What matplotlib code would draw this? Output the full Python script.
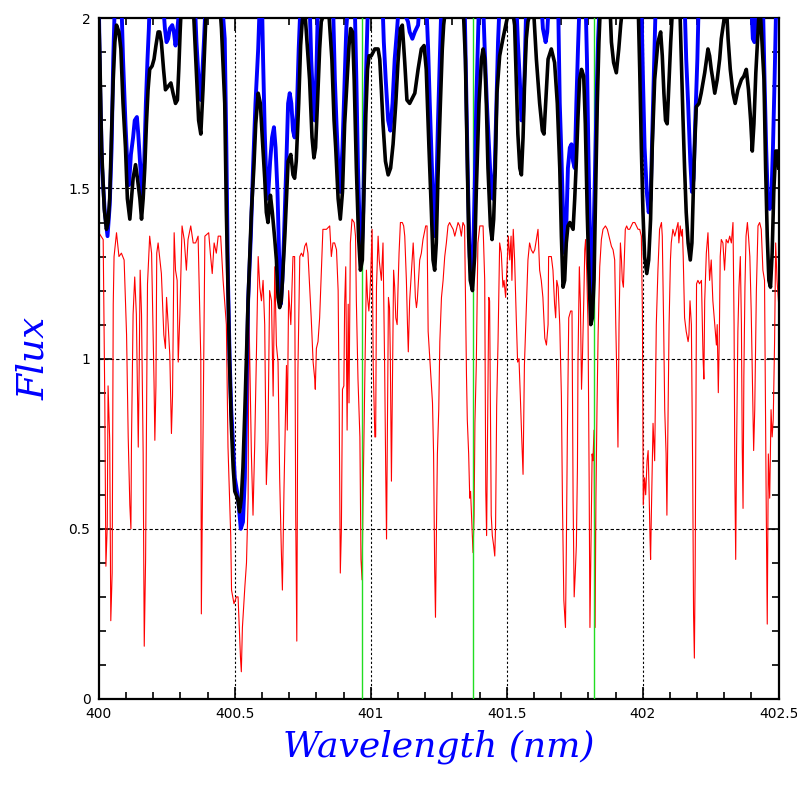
import matplotlib
matplotlib.use("Agg")
import matplotlib.pyplot as plt
from matplotlib.ticker import MultipleLocator, FuncFormatter

# red: synthetic line spectrum (thin)
red_wl = [400.000, 400.016, 400.022, 400.026, 400.031, 400.034, 400.040, 400.044, 400.049, 400.053,
          400.056, 400.065, 400.074, 400.083, 400.093, 400.102, 400.108, 400.114, 400.118, 400.120,
          400.126, 400.132, 400.138, 400.145, 400.148, 400.152, 400.157, 400.163, 400.167, 400.172,
          400.175, 400.179, 400.187, 400.194, 400.203, 400.206, 400.210, 400.213, 400.218, 400.230,
          400.239, 400.245, 400.249, 400.255, 400.261, 400.267, 400.271, 400.277, 400.282, 400.288,
          400.292, 400.298, 400.306, 400.314, 400.322, 400.328, 400.338, 400.347, 400.356, 400.365,
          400.375, 400.377, 400.383, 400.390, 400.404, 400.410, 400.417, 400.424, 400.432, 400.439,
          400.448, 400.457, 400.469, 400.475, 400.485, 400.488, 400.497, 400.506, 400.512, 400.521,
          400.524, 400.528, 400.537, 400.543, 400.549, 400.552, 400.561, 400.567, 400.573, 400.579,
          400.586, 400.592, 400.598, 400.604, 400.610, 400.616, 400.622, 400.628, 400.635, 400.641,
          400.647, 400.653, 400.659, 400.665, 400.671, 400.675, 400.681, 400.690, 400.693, 400.698,
          400.706, 400.714, 400.720, 400.724, 400.728, 400.732, 400.739, 400.745, 400.751, 400.757,
          400.763, 400.769, 400.781, 400.788, 400.794, 400.796, 400.800, 400.806, 400.812, 400.818,
          400.824, 400.837, 400.849, 400.855, 400.861, 400.867,
          400.874, 400.880, 400.884, 400.888, 400.892, 400.896, 400.901, 400.904, 400.908, 400.913,
          400.917, 400.920, 400.925, 400.931, 400.939, 400.944, 400.947, 400.953, 400.960, 400.964,
          400.968, 400.972, 400.975, 400.979, 400.984, 400.988, 400.993, 400.996, 401.000, 401.005,
          401.009, 401.015, 401.018, 401.021, 401.027, 401.031, 401.035, 401.039, 401.045, 401.051,
          401.055, 401.058, 401.061, 401.065, 401.069, 401.072, 401.076, 401.080, 401.084, 401.088,
          401.092, 401.097, 401.100, 401.104, 401.109, 401.116, 401.121, 401.125, 401.131, 401.135,
          401.138, 401.143, 401.149, 401.156, 401.159, 401.164, 401.168, 401.171, 401.180, 401.186,
          401.192, 401.202, 401.207, 401.211, 401.217, 401.227, 401.231, 401.235, 401.238, 401.241,
          401.245, 401.250, 401.254, 401.260, 401.266, 401.272, 401.278, 401.284, 401.290, 401.296,
          401.303, 401.309, 401.315, 401.321, 401.327, 401.333, 401.339, 401.345, 401.352, 401.355,
          401.360, 401.364, 401.367, 401.372, 401.376, 401.380, 401.383, 401.388, 401.394, 401.401,
          401.407, 401.413, 401.419, 401.423, 401.426, 401.430, 401.434, 401.437, 401.443, 401.447,
          401.452, 401.456, 401.459, 401.463, 401.468, 401.474, 401.480, 401.486, 401.490, 401.496,
          401.501, 401.506, 401.511, 401.516, 401.519, 401.524, 401.529, 401.535, 401.540, 401.545,
          401.550, 401.555, 401.560, 401.565, 401.570, 401.578, 401.584, 401.590, 401.597, 401.603,
          401.609, 401.615, 401.621, 401.627, 401.633,
          401.640, 401.646, 401.652, 401.654, 401.664, 401.670, 401.676, 401.680, 401.684, 401.689,
          401.695, 401.701, 401.705, 401.710, 401.716, 401.719, 401.723, 401.728, 401.735, 401.740,
          401.744, 401.748, 401.752, 401.756, 401.760, 401.762, 401.767, 401.771, 401.775, 401.778,
          401.783, 401.787, 401.790, 401.794, 401.799, 401.803, 401.806, 401.810, 401.814, 401.817,
          401.821, 401.825, 401.828, 401.832, 401.836, 401.842, 401.848, 401.854, 401.863, 401.870,
          401.879, 401.885, 401.891, 401.897, 401.901, 401.906, 401.909, 401.913, 401.918, 401.922,
          401.925, 401.929, 401.931, 401.936, 401.941, 401.946, 401.952, 401.958, 401.964, 401.971,
          401.977, 401.983, 401.989, 401.995, 401.999, 402.002, 402.007, 402.011, 402.016, 402.020,
          402.023, 402.027, 402.029, 402.032, 402.038, 402.044, 402.050, 402.056, 402.062, 402.069,
          402.072, 402.077, 402.081, 402.086, 402.089, 402.093, 402.097, 402.102, 402.105, 402.111,
          402.118, 402.124, 402.130, 402.133, 402.138, 402.142, 402.146, 402.149, 402.154, 402.160,
          402.167, 402.170, 402.174, 402.179, 402.184, 402.187, 402.190, 402.193, 402.198, 402.203,
          402.209, 402.216, 402.222, 402.225, 402.228, 402.234, 402.240, 402.246, 402.252, 402.258,
          402.265, 402.271, 402.274, 402.278, 402.282, 402.285, 402.289, 402.295, 402.301, 402.307,
          402.314, 402.320, 402.326, 402.332, 402.336, 402.339, 402.342, 402.345, 402.350, 402.354,
          402.359, 402.363, 402.366, 402.369, 402.372, 402.376, 402.380, 402.385, 402.389, 402.394,
          402.399, 402.404, 402.408, 402.412, 402.418, 402.424, 402.430, 402.436, 402.442, 402.448,
          402.454, 402.458, 402.462, 402.467, 402.472, 402.476, 402.480, 402.485, 402.489, 402.494,
          402.500]
red_flux = [1.37, 1.35, 0.87, 0.39, 0.51, 0.92, 0.76, 0.23, 0.37, 1.16,
            1.30, 1.37, 1.30, 1.31, 1.29, 1.07, 0.77, 0.57, 0.50, 0.75,
            1.13, 1.24, 1.13, 0.74, 0.94, 1.26, 1.13, 0.72, 0.155, 0.41,
            0.78, 1.22, 1.36, 1.31, 0.93, 0.76, 0.92, 1.31, 1.34, 1.25,
            1.07, 1.03, 1.18, 1.10, 1.01, 0.78, 0.89, 1.37, 1.26, 1.23,
            0.99, 1.13, 1.39, 1.35, 1.26, 1.35, 1.39, 1.34, 1.34, 1.36,
            1.00, 0.25, 0.77, 1.36, 1.37, 1.31, 1.25, 1.34, 1.31, 1.36,
            1.36, 1.23, 1.10, 0.74, 0.48, 0.32, 0.28, 0.30, 0.30, 0.12,
            0.08, 0.21, 0.33, 0.40, 0.59, 1.14, 0.72, 0.54, 0.74, 0.99,
            1.30, 1.21, 1.17, 1.23, 1.10, 0.63, 0.76, 1.20, 1.17, 0.89,
            1.27, 1.04, 0.99, 0.65, 0.44, 0.32, 0.62, 0.98, 0.79, 1.20,
            1.10, 1.30, 1.30, 0.54, 0.17, 0.96, 1.30, 1.31, 1.30, 1.33,
            1.34, 1.31, 1.12, 0.99, 0.94, 0.91, 1.03, 1.05, 1.12, 1.25,
            1.38, 1.38, 1.39, 1.30, 1.34, 1.34,
            1.32, 1.20, 0.85, 0.37, 0.50, 0.91, 0.92, 1.16, 1.27, 0.79,
            1.16, 0.87, 1.34, 1.41, 1.40, 1.36, 1.17, 0.94, 0.77, 0.41,
            0.35, 0.61, 0.77, 1.00, 1.26, 1.18, 1.14, 1.18, 1.25, 1.38,
            0.98, 0.77, 0.77, 1.21, 1.36, 1.29, 1.26, 1.23, 1.34, 0.98,
            0.67, 0.47, 0.78, 1.18, 1.15, 1.00, 0.64, 0.94, 1.26, 1.21,
            1.12, 1.10, 1.20, 1.31, 1.40, 1.40, 1.39, 1.36, 1.23, 1.10,
            1.02, 1.17, 1.25, 1.34, 1.29, 1.18, 1.15, 1.17, 1.29, 1.31,
            1.35, 1.39, 1.39, 1.08, 1.00, 0.87, 0.72, 0.38, 0.24, 0.46,
            0.72, 0.85, 1.05, 1.18, 1.23, 1.30, 1.34, 1.39, 1.40, 1.39,
            1.38, 1.36, 1.38, 1.40, 1.39, 1.36, 1.40, 1.39, 0.95, 0.82,
            0.72, 0.59, 0.61, 0.51, 0.43, 0.54, 0.81, 0.98, 1.34, 1.39,
            1.39, 1.39, 1.23, 0.61, 0.48, 0.82, 1.18, 1.17, 0.54, 0.48,
            0.45, 0.42, 0.51, 0.86, 1.05, 1.34, 1.31, 1.21, 1.23, 1.18,
            1.27, 1.36, 1.29, 1.36, 1.23, 1.38, 1.29, 1.12, 0.99, 1.00,
            0.89, 0.77, 0.66, 0.98, 1.10, 1.29, 1.34, 1.32, 1.31, 1.32,
            1.35, 1.38, 1.26, 1.23, 1.18,
            1.06, 1.04, 1.10, 1.30, 1.30, 1.26, 1.16, 1.12, 1.23, 1.21,
            1.10, 0.89, 0.57, 0.29, 0.21, 0.43, 0.78, 1.12, 1.14, 1.14,
            0.59, 0.30, 0.37, 0.45, 0.68, 0.99, 1.27, 1.16, 0.91, 0.99,
            1.16, 1.32, 1.35, 1.26, 1.10, 0.65, 0.21, 0.46, 0.72, 0.70,
            0.79, 0.21, 0.59, 0.86, 1.07, 1.27, 1.35, 1.38, 1.39, 1.38,
            1.35, 1.33, 1.32, 1.29, 1.10, 0.90, 0.74, 1.10, 1.34, 1.29,
            1.23, 1.21, 1.26, 1.38, 1.39, 1.38, 1.38, 1.39, 1.40, 1.40,
            1.39, 1.38, 1.38, 1.36, 1.13, 0.57, 0.65, 0.60, 0.70, 0.73,
            0.63, 0.47, 0.41, 0.55, 0.81, 0.70, 1.10, 1.26, 1.38, 1.40,
            1.36, 1.10, 0.85, 0.72, 0.54, 0.82, 1.10, 1.29, 1.34, 1.38,
            1.36, 1.38, 1.40, 1.34, 1.39, 1.36, 1.38, 1.30, 1.12, 1.08,
            1.05, 1.07, 1.17, 1.10, 0.65, 0.25, 0.12, 0.39, 1.22, 1.23,
            1.22, 1.23, 1.00, 0.94, 1.17, 1.31, 1.37, 1.23, 1.29, 1.17,
            1.10, 1.04, 1.10, 0.90, 1.08, 1.30, 1.35, 1.34, 1.26, 1.35,
            1.34, 1.36, 1.34, 1.40, 1.10, 0.64, 0.41, 0.72, 1.08, 1.21,
            1.30, 1.10, 0.74, 0.56, 0.95, 1.21, 1.36, 1.40, 1.36, 1.30,
            1.14, 0.91, 0.73, 0.85, 1.20, 1.39, 1.40, 1.38, 1.26, 1.23,
            0.59, 0.22, 0.72, 0.59, 0.85, 0.77, 0.82, 1.05, 1.34, 1.23,
            1.16]

# blue: broadened spectrum (thick, clipped at top)
blue_wl = [400.000, 400.004, 400.012, 400.022, 400.032, 400.040, 400.047, 400.053, 400.059, 400.083,
           400.089, 400.098, 400.105, 400.111, 400.118, 400.126, 400.132, 400.140, 400.145, 400.152,
           400.160, 400.167, 400.173, 400.179, 400.184, 400.187, 400.236, 400.243, 400.249, 400.255,
           400.261, 400.270, 400.276, 400.282, 400.288, 400.298, 400.353, 400.359, 400.367, 400.375,
           400.380, 400.387, 400.393, 400.453, 400.463, 400.469, 400.475, 400.481, 400.487, 400.500,
           400.512, 400.522, 400.530, 400.537, 400.543, 400.549, 400.559, 400.567, 400.576, 400.586,
           400.592, 400.600, 400.604, 400.610, 400.616, 400.622, 400.630, 400.637, 400.644, 400.650,
           400.657, 400.663, 400.669, 400.675, 400.681, 400.689, 400.696, 400.702, 400.708, 400.714,
           400.720, 400.728, 400.735, 400.742, 400.775, 400.781, 400.788, 400.794, 400.800, 400.806,
           400.861, 400.868, 400.874, 400.881, 400.888, 400.896, 400.904, 400.910, 400.917, 400.941,
           400.947, 400.953, 400.960, 400.966, 400.972, 400.978, 400.984, 400.990, 401.043, 401.048,
           401.055, 401.064, 401.072, 401.080, 401.088, 401.097, 401.104, 401.137, 401.143, 401.153,
           401.162, 401.174, 401.180, 401.204, 401.211, 401.217, 401.225, 401.231, 401.236, 401.241,
           401.247, 401.254, 401.260, 401.345, 401.352, 401.358, 401.364, 401.370, 401.376, 401.382,
           401.388, 401.394, 401.398, 401.413, 401.419, 401.427, 401.435, 401.443, 401.449, 401.456,
           401.462, 401.468, 401.474, 401.535, 401.541, 401.548, 401.554, 401.560, 401.566, 401.572,
           401.627, 401.633, 401.643, 401.649, 401.655, 401.689, 401.695, 401.701, 401.707, 401.713,
           401.719, 401.725, 401.732, 401.738, 401.744, 401.750, 401.756, 401.762, 401.768, 401.790,
           401.795, 401.800, 401.806, 401.812, 401.817, 401.823, 401.830, 401.836, 401.842, 401.995,
           402.001, 402.007, 402.015, 402.022, 402.029, 402.034, 402.041, 402.048, 402.154, 402.160,
           402.167, 402.175, 402.181, 402.187, 402.193, 402.201, 402.206, 402.399, 402.405, 402.411,
           402.418, 402.442, 402.448, 402.454, 402.460, 402.467, 402.473, 402.479, 402.485, 402.491,
           402.500]
blue_flux = [2.05, 1.82, 1.56, 1.43, 1.36, 1.45, 1.62, 1.88, 2.05, 2.05,
             1.88, 1.69, 1.57, 1.51, 1.60, 1.65, 1.70, 1.71, 1.66, 1.57,
             1.47, 1.58, 1.75, 1.88, 1.97, 2.05, 2.05, 1.97, 1.93, 1.94,
             1.97, 1.98, 1.96, 1.92, 1.96, 2.05, 2.05, 1.93, 1.82, 1.76,
             1.83, 1.94, 2.05, 2.05, 1.94, 1.62, 1.23, 1.00, 0.85, 0.65,
             0.59, 0.50, 0.52, 0.65, 0.91, 1.17, 1.36, 1.56, 1.75, 1.91,
             2.05, 2.05, 1.88, 1.67, 1.52, 1.47, 1.58, 1.65, 1.68, 1.62,
             1.49, 1.30, 1.16, 1.23, 1.36, 1.56, 1.75, 1.78, 1.75, 1.67,
             1.65, 1.72, 1.91, 2.05, 2.05, 1.88, 1.75, 1.70, 1.84, 2.05,
             2.05, 1.82, 1.69, 1.56, 1.49, 1.62, 1.82, 1.97, 2.05, 2.05,
             1.82, 1.56, 1.36, 1.29, 1.43, 1.69, 1.88, 2.05, 2.05, 1.93,
             1.82, 1.70, 1.67, 1.75, 1.88, 1.97, 2.05, 1.99, 1.96, 1.94,
             1.96, 1.98, 2.05, 2.05, 1.91, 1.75, 1.56, 1.43, 1.36, 1.49,
             1.69, 1.88, 2.05, 2.05, 1.75, 1.49, 1.30, 1.23, 1.29, 1.49,
             1.75, 1.93, 2.05, 2.05, 1.91, 1.75, 1.62, 1.49, 1.47, 1.56,
             1.75, 1.93, 2.05, 2.05, 1.93, 1.82, 1.70, 1.71, 1.85, 2.05,
             2.05, 1.97, 1.93, 1.96, 2.05, 2.05, 1.75, 1.60, 1.43, 1.31,
             1.39, 1.56, 1.62, 1.63, 1.58, 1.56, 1.75, 1.91, 2.05, 2.05,
             1.88, 1.62, 1.36, 1.17, 1.29, 1.49, 1.75, 1.94, 2.05, 2.05,
             1.82, 1.62, 1.49, 1.43, 1.47, 1.62, 1.82, 2.05, 2.05, 1.88,
             1.75, 1.58, 1.49, 1.53, 1.69, 1.88, 2.05, 2.05, 1.94, 1.93,
             2.05, 2.05, 1.82, 1.62, 1.47, 1.44, 1.47, 1.62, 1.82, 2.05,
             2.05]

# black: observed spectrum (thick)
black_wl = [400.000, 400.004, 400.010, 400.020, 400.028, 400.034, 400.040, 400.047, 400.053, 400.059,
            400.065, 400.074, 400.081, 400.089, 400.098, 400.105, 400.114, 400.120, 400.126, 400.135,
            400.142, 400.151, 400.157, 400.163, 400.169, 400.175, 400.181, 400.187, 400.196, 400.203,
            400.210, 400.218, 400.224, 400.230, 400.238, 400.245, 400.255, 400.265, 400.273, 400.282,
            400.289, 400.294, 400.299, 400.304, 400.347, 400.350, 400.359, 400.367, 400.375, 400.383,
            400.390, 400.396, 400.444, 400.451, 400.463, 400.469, 400.475, 400.481, 400.487, 400.494,
            400.500, 400.510, 400.518, 400.524, 400.530, 400.537, 400.543, 400.549, 400.555, 400.561,
            400.570, 400.577, 400.586, 400.594, 400.601, 400.610, 400.616, 400.622, 400.631, 400.638,
            400.647, 400.653, 400.659, 400.665, 400.671, 400.677, 400.684, 400.690, 400.696, 400.706,
            400.714, 400.720, 400.726, 400.735, 400.742, 400.747, 400.755, 400.763, 400.775, 400.784,
            400.791, 400.797, 400.804, 400.812, 400.818, 400.843, 400.857, 400.865,
            400.871, 400.880, 400.888, 400.896, 400.904, 400.913, 400.920, 400.926, 400.933, 400.939,
            400.947, 400.955, 400.962, 400.969, 400.975, 400.982, 400.988, 400.994, 401.002, 401.015,
            401.027, 401.033, 401.039, 401.045, 401.054, 401.064, 401.073, 401.082, 401.092, 401.100,
            401.109, 401.116, 401.125, 401.133, 401.143, 401.162, 401.174, 401.186, 401.196, 401.204,
            401.214, 401.223, 401.229, 401.235, 401.241, 401.247, 401.256, 401.263, 401.268, 401.278,
            401.339, 401.348, 401.354, 401.360, 401.366, 401.374, 401.382, 401.388, 401.398, 401.407,
            401.413, 401.419, 401.425, 401.431, 401.440, 401.446, 401.452, 401.458, 401.464, 401.474,
            401.486, 401.499, 401.517, 401.529, 401.535, 401.541, 401.548, 401.554, 401.560, 401.566,
            401.572, 401.578, 401.597, 401.609, 401.621, 401.631, 401.637,
            401.646, 401.652, 401.664, 401.676, 401.686, 401.695, 401.701, 401.707, 401.713, 401.719,
            401.725, 401.732, 401.738, 401.744, 401.750, 401.756, 401.762, 401.768, 401.775, 401.783,
            401.789, 401.796, 401.803, 401.809, 401.815, 401.821, 401.827, 401.833, 401.839, 401.845,
            401.879, 401.885, 401.893, 401.903, 401.912, 401.919, 401.928, 401.983, 401.989, 401.995,
            402.001, 402.007, 402.015, 402.022, 402.029, 402.035, 402.044, 402.056, 402.066, 402.072,
            402.078, 402.084, 402.090, 402.097, 402.103, 402.111, 402.136, 402.142, 402.148, 402.154,
            402.160, 402.167, 402.175, 402.181, 402.186, 402.191, 402.197, 402.207, 402.215, 402.228,
            402.240, 402.246, 402.252, 402.258, 402.265, 402.274, 402.283, 402.289, 402.298, 402.307,
            402.314, 402.322, 402.332, 402.340, 402.350, 402.363, 402.372, 402.381, 402.389, 402.397,
            402.403, 402.409, 402.416, 402.424, 402.430, 402.436, 402.446, 402.452, 402.458, 402.464,
            402.470, 402.476, 402.482, 402.489, 402.497, 402.500]
black_flux = [2.00, 1.88, 1.62, 1.44, 1.38, 1.40, 1.47, 1.67, 1.82, 1.93,
              1.98, 1.96, 1.91, 1.75, 1.62, 1.47, 1.41, 1.47, 1.53, 1.57,
              1.53, 1.47, 1.41, 1.47, 1.56, 1.69, 1.79, 1.85, 1.86, 1.88,
              1.92, 1.96, 1.96, 1.93, 1.85, 1.79, 1.80, 1.81, 1.78, 1.75,
              1.76, 1.85, 1.96, 2.05, 2.05, 1.99, 1.84, 1.70, 1.66, 1.79,
              1.93, 2.05, 2.05, 1.97, 1.75, 1.43, 1.21, 0.98, 0.81, 0.68,
              0.61, 0.59, 0.55, 0.59, 0.68, 0.85, 1.01, 1.17, 1.30, 1.43,
              1.56, 1.69, 1.78, 1.75, 1.65, 1.53, 1.43, 1.40, 1.48, 1.43,
              1.35, 1.29, 1.18, 1.15, 1.17, 1.26, 1.36, 1.47, 1.58, 1.60,
              1.54, 1.53, 1.58, 1.75, 1.92, 1.98, 2.05, 1.96, 1.82, 1.65,
              1.59, 1.62, 1.75, 1.91, 1.99, 2.05, 1.88, 1.70,
              1.62, 1.47, 1.41, 1.49, 1.69, 1.82, 1.92, 1.97, 1.96, 1.82,
              1.56, 1.36, 1.26, 1.29, 1.49, 1.72, 1.85, 1.89, 1.89, 1.91,
              1.91, 1.88, 1.79, 1.69, 1.58, 1.54, 1.56, 1.63, 1.75, 1.87,
              1.97, 1.98, 1.87, 1.76, 1.75, 1.78, 1.85, 1.91, 1.92, 1.85,
              1.62, 1.43, 1.29, 1.26, 1.34, 1.53, 1.75, 1.91, 1.98, 2.05,
              2.05, 1.88, 1.62, 1.36, 1.23, 1.20, 1.30, 1.49, 1.75, 1.88,
              1.91, 1.88, 1.75, 1.56, 1.39, 1.35, 1.41, 1.56, 1.78, 1.89,
              1.94, 1.99, 2.05, 1.98, 1.82, 1.66, 1.56, 1.54, 1.65, 1.82,
              1.94, 1.99, 2.05, 1.88, 1.75, 1.67, 1.66,
              1.79, 1.88, 1.91, 1.87, 1.75, 1.56, 1.36, 1.21, 1.23, 1.34,
              1.39, 1.40, 1.39, 1.38, 1.47, 1.58, 1.71, 1.82, 1.85, 1.83,
              1.69, 1.43, 1.23, 1.10, 1.12, 1.23, 1.49, 1.75, 1.93, 2.05,
              2.05, 1.93, 1.87, 1.84, 1.91, 1.98, 2.05, 2.05, 1.85, 1.62,
              1.43, 1.30, 1.25, 1.29, 1.41, 1.62, 1.82, 1.93, 1.96, 1.89,
              1.78, 1.70, 1.69, 1.82, 1.93, 2.05, 2.05, 1.88, 1.71, 1.56,
              1.43, 1.34, 1.29, 1.34, 1.49, 1.62, 1.74, 1.75, 1.78, 1.84,
              1.91, 1.89, 1.85, 1.82, 1.78, 1.82, 1.88, 1.94, 1.99, 2.05,
              1.94, 1.85, 1.78, 1.75, 1.79, 1.82, 1.83, 1.85, 1.79, 1.70,
              1.61, 1.69, 1.84, 1.96, 2.05, 1.97, 1.82, 1.56, 1.36, 1.23,
              1.21, 1.31, 1.49, 1.61, 1.61, 1.56]

# thin vertical markers
marker_wl = [400.967, 401.376, 401.82]
grid_wl = [400.5, 401.0, 401.5, 402.0]
grid_flux = [0.5, 1.0, 1.5]

fig = plt.figure(figsize=(7.97, 7.97), dpi=100)
ax = fig.add_axes([0.124, 0.123, 0.853, 0.854])

for g in grid_wl:
    ax.axvline(g, color="black", lw=0.8, ls=(0, (2, 2)), zorder=1)
for g in grid_flux:
    ax.axhline(g, color="black", lw=0.8, ls=(0, (3, 2)), zorder=1)

ax.plot(red_wl, red_flux, color="red", lw=0.8, zorder=2)
for m in marker_wl:
    ax.axvline(m, color="#22dd22", lw=1.0, zorder=3)
ax.plot(blue_wl, blue_flux, color="blue", lw=2.8, zorder=4)
ax.plot(black_wl, black_flux, color="black", lw=2.6, zorder=5)

ax.set_xlim(400, 402.5)
ax.set_ylim(0, 2)
ax.xaxis.set_major_locator(MultipleLocator(0.5))
ax.xaxis.set_minor_locator(MultipleLocator(0.1))
ax.yaxis.set_major_locator(MultipleLocator(0.5))
ax.yaxis.set_minor_locator(MultipleLocator(0.1))
fmt = FuncFormatter(lambda v, p: f"{v:g}")
ax.xaxis.set_major_formatter(fmt)
ax.yaxis.set_major_formatter(fmt)
ax.tick_params(which="both", direction="in", top=True, right=True, labelsize=10, width=1.2)
ax.tick_params(which="major", length=9, pad=6)
ax.tick_params(which="minor", length=5)
for s in ax.spines.values():
    s.set_linewidth(1.6)

ax.set_xlabel("Wavelength (nm)", color="blue", fontsize=26, family="DejaVu Serif",
              style="italic", labelpad=6)
ax.set_ylabel("Flux", color="blue", fontsize=27, family="DejaVu Serif",
              style="italic", labelpad=12)

fig.savefig("out.png", dpi=100)
